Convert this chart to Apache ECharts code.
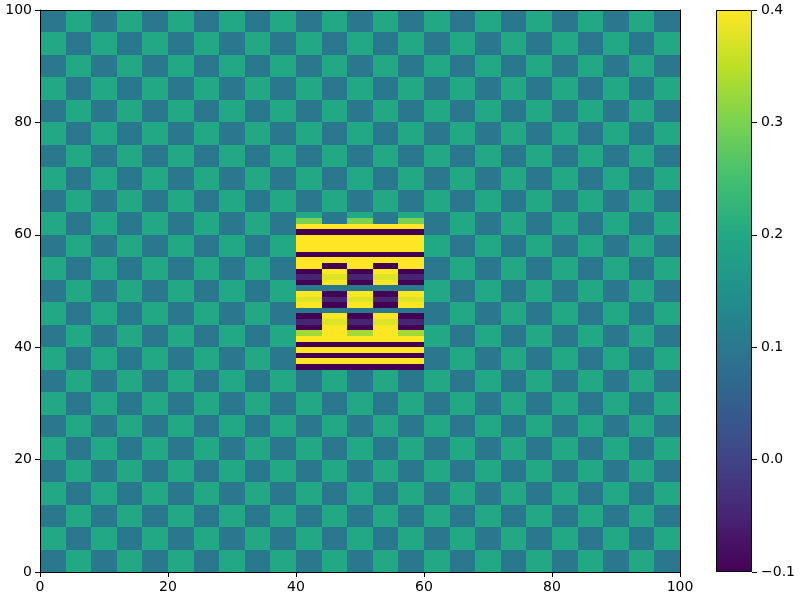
<!DOCTYPE html>
<html>
<head>
<meta charset="utf-8">
<script src="https://cdn.jsdelivr.net/npm/echarts@6/dist/echarts.min.js"></script>
<style>html,body{margin:0;padding:0;background:#fff;}#c{width:800px;height:600px;}</style>
</head>
<body>
<div id="c"></div>
<script>
// ---- data ----
const xTickInterval = 20;
const yTickInterval = 20;
const cbarMin = -0.1, cbarMax = 0.4, cbarInterval = 0.1;
const viridis = ['#440154','#482475','#414487','#355f8d','#2a788e','#21918c','#22a884','#44bf70','#7ad151','#bddf26','#fde725'];

// background checkerboard: 25 x 25 cells, each 4 x 4 units, rows bottom -> top
const bgCell = 4;
const E = [0.1,0.2,0.1,0.2,0.1,0.2,0.1,0.2,0.1,0.2,0.1,0.2,0.1,0.2,0.1,0.2,0.1,0.2,0.1,0.2,0.1,0.2,0.1,0.2,0.1];
const O = [0.2,0.1,0.2,0.1,0.2,0.1,0.2,0.1,0.2,0.1,0.2,0.1,0.2,0.1,0.2,0.1,0.2,0.1,0.2,0.1,0.2,0.1,0.2,0.1,0.2];
const bgValues = [E,O,E,O,E,O,E,O,E,O,E,O,E,O,E,O,E,O,E,O,E,O,E,O,E];

// central patch: 5 columns (x edges), rows of 1 unit from y = 36 upwards
const patchXEdges = [40, 44, 48, 52, 56, 60];
const patchYStart = 36;
const patchRowHeight = 1;
const patchValues = [
  [-0.1, -0.1, -0.1, -0.1, -0.1],   // 36
  [0.4, 0.4, 0.4, 0.4, 0.4],        // 37
  [-0.1, -0.1, -0.1, -0.1, -0.1],   // 38
  [0.4, 0.4, 0.4, 0.4, 0.4],        // 39
  [-0.1, -0.1, -0.1, -0.1, -0.1],   // 40
  [0.4, 0.4, 0.4, 0.4, 0.4],        // 41
  [0.33, 0.4, 0.33, 0.4, 0.33],     // 42
  [-0.1, 0.4, -0.1, 0.4, -0.1],     // 43
  [-0.05, 0.375, -0.05, 0.375, -0.05], // 44
  [-0.1, 0.4, -0.1, 0.4, -0.1],     // 45
  [0.1, 0.1, 0.1, 0.1, 0.1],        // 46
  [0.4, -0.1, 0.4, -0.1, 0.4],      // 47
  [0.375, -0.05, 0.375, -0.05, 0.375], // 48
  [0.4, -0.1, 0.4, -0.1, 0.4],      // 49
  [0.1, 0.1, 0.1, 0.1, 0.1],        // 50
  [-0.1, 0.4, -0.1, 0.4, -0.1],     // 51
  [-0.05, 0.375, -0.05, 0.375, -0.05], // 52
  [-0.1, 0.4, -0.1, 0.4, -0.1],     // 53
  [0.4, -0.1, 0.4, -0.1, 0.4],      // 54
  [0.4, 0.4, 0.4, 0.4, 0.4],        // 55
  [-0.1, -0.1, -0.1, -0.1, -0.1],   // 56
  [0.4, 0.4, 0.4, 0.4, 0.4],        // 57
  [0.4, 0.4, 0.4, 0.4, 0.4],        // 58
  [0.4, 0.4, 0.4, 0.4, 0.4],        // 59
  [-0.1, -0.1, -0.1, -0.1, -0.1],   // 60
  [0.4, 0.4, 0.4, 0.4, 0.4],        // 61
  [0.3, null, 0.3, null, 0.3]       // 62
];

// ---- build series data ----
const bgData = [];
bgValues.forEach((row, j) => {
  row.forEach((v, i) => {
    bgData.push([i * bgCell, (i + 1) * bgCell, j * bgCell, (j + 1) * bgCell, v]);
  });
});
const patchData = [];
patchValues.forEach((row, j) => {
  row.forEach((v, i) => {
    if (v === null) return;
    const y0 = patchYStart + j * patchRowHeight;
    patchData.push([patchXEdges[i], patchXEdges[i + 1], y0, y0 + patchRowHeight, v]);
  });
});

function renderCell(params, api) {
  const p0 = api.coord([api.value(0), api.value(3)]);
  const p1 = api.coord([api.value(1), api.value(2)]);
  const x = Math.round(p0[0]), y = Math.round(p0[1]);
  const w = Math.round(p1[0]) - x, h = Math.round(p1[1]) - y;
  return {
    type: 'rect',
    shape: { x: x, y: y, width: w, height: h },
    style: { fill: api.visual('color'), stroke: null }
  };
}

const font = 'DejaVu Sans';
const labelStyle = { color: '#000', fontSize: 14, fontFamily: font };
const lineBlack = { color: '#000', width: 1 };

const chart = echarts.init(document.getElementById('c'), null, { renderer: 'canvas' });
chart.setOption({
  animation: false,
  backgroundColor: '#fff',
  grid: [
    { left: 40, top: 10, width: 640, height: 562, containLabel: false, outerBoundsMode: 'none' },
    { left: 716, top: 10, width: 36, height: 562, containLabel: false, outerBoundsMode: 'none' }
  ],
  xAxis: [
    { type: 'value', gridIndex: 0, min: 0, max: 100, interval: xTickInterval, z: 10,
      axisLine: { show: true, onZero: false, lineStyle: lineBlack },
      axisTick: { show: true, length: 5, lineStyle: lineBlack },
      axisLabel: Object.assign({ margin: 8 }, labelStyle),
      splitLine: { show: false } },
    { type: 'value', gridIndex: 0, min: 0, max: 100, position: 'top', z: 10,
      axisLine: { show: true, onZero: false, lineStyle: lineBlack },
      axisTick: { show: false }, axisLabel: { show: false }, splitLine: { show: false } },
    { type: 'value', gridIndex: 1, min: 0, max: 1, show: false }
  ],
  yAxis: [
    { type: 'value', gridIndex: 0, min: 0, max: 100, interval: yTickInterval, z: 10,
      axisLine: { show: true, onZero: false, lineStyle: lineBlack },
      axisTick: { show: true, length: 5, lineStyle: lineBlack },
      axisLabel: Object.assign({ margin: 8 }, labelStyle),
      splitLine: { show: false } },
    { type: 'value', gridIndex: 0, min: 0, max: 100, position: 'right', z: 10,
      axisLine: { show: true, onZero: false, lineStyle: lineBlack },
      axisTick: { show: false }, axisLabel: { show: false }, splitLine: { show: false } },
    { type: 'value', gridIndex: 1, min: cbarMin, max: cbarMax, interval: cbarInterval, position: 'right', z: 10,
      axisLine: { show: false, onZero: false },
      axisTick: { show: true, inside: false, length: 5, lineStyle: lineBlack },
      axisLabel: Object.assign({ margin: 9, inside: false, formatter: v => (v < -1e-9 ? '\u2212' : '') + Math.abs(v).toFixed(1) }, labelStyle),
      splitLine: { show: false } }
  ],
  visualMap: {
    type: 'continuous', show: false, min: cbarMin, max: cbarMax, dimension: 4,
    seriesIndex: [0, 1], inRange: { color: viridis }
  },
  series: [
    { type: 'custom', xAxisIndex: 0, yAxisIndex: 0, renderItem: renderCell, data: bgData,
      encode: { x: [0, 1], y: [2, 3] }, silent: true },
    { type: 'custom', xAxisIndex: 0, yAxisIndex: 0, renderItem: renderCell, data: patchData,
      encode: { x: [0, 1], y: [2, 3] }, silent: true },
    { type: 'custom', xAxisIndex: 2, yAxisIndex: 2, silent: true,
      data: [[0, 1, cbarMin, cbarMax]],
      encode: { x: [0, 1], y: [2, 3] },
      renderItem: function (params, api) {
        const p0 = api.coord([api.value(0), api.value(3)]);
        const p1 = api.coord([api.value(1), api.value(2)]);
        const stops = viridis.slice().reverse().map((c, k, a) => ({ offset: k / (a.length - 1), color: c }));
        return {
          type: 'rect',
          shape: { x: Math.round(p0[0]) + 0.5, y: Math.round(p0[1]) + 0.5,
                   width: Math.round(p1[0] - p0[0]) - 1, height: Math.round(p1[1] - p0[1]) - 1 },
          style: { fill: new echarts.graphic.LinearGradient(0, 0, 0, 1, stops), stroke: '#000', lineWidth: 1 }
        };
      } }
  ]
});
</script>
</body>
</html>
